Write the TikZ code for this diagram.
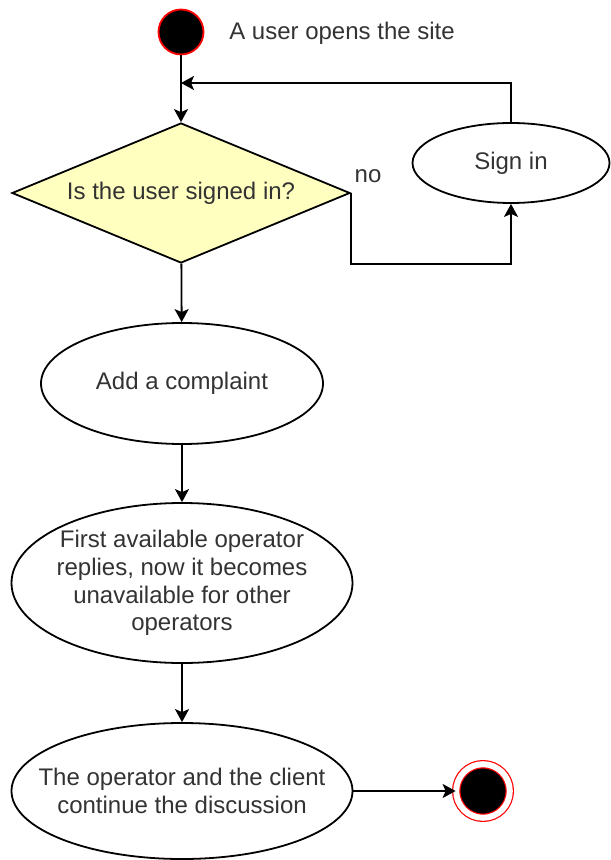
\documentclass[tikz,border=0pt]{standalone}
\usepackage{fontspec}
\setmainfont{Liberation Sans}
\usetikzlibrary{arrows.meta, shapes.geometric}
\definecolor{askfill}{HTML}{FFFFC0}
\begin{document}
\begin{tikzpicture}[x=0.5pt, y=-0.5pt,
                    font=\fontsize{12pt}{13.8pt}\selectfont]
          \useasboundingbox (0,0) rectangle (610,860);
          % Setup the styles for the steps
          \tikzset{action style/.style={ellipse,
                                        draw=black,
                                        line width=0.9pt,
                                        fill=white,
                                        inner xsep=-12pt,
                                        inner ysep=0pt,
                                        align=center,
                                        text=black!80},
                   ask style/.style={diamond,
                                     draw=black,
                                     line width=0.9pt,
                                     fill=askfill,
                                     inner sep=0pt,
                                     shape aspect=2.414,
                                     minimum width=169pt,
                                     minimum height=70pt,
                                     text=black!80},
                   begin style/.style={circle,
                                       fill=black,
                                       draw=red,
                                       line width=0.9pt,
                                       inner sep=0pt,
                                       minimum size=22.5pt},
                   finish style/.style={circle,
                                        fill=black,
                                        draw=red,
                                        line width=0.6pt,
                                        double=white,
                                        double distance=3pt,
                                        inner sep=0pt,
                                        minimum size=26.8pt},
                   flow/.style={line width=0.9pt,
                                -{Stealth[length=6.5pt, width=7pt, inset=1.5pt]}}}
          % Draw the steps
          \node[begin style] at (181, 32)     (start)     {};
          \node[text=black!80] at (342, 33)   (opens)     {A user opens the site};
          \coordinate (join) at (181, 83);
          \node[ask style] at (181, 193)      (signed)    {Is the user signed in?};
          \node[action style, minimum width=98.5pt, minimum height=40pt]
                at (511, 163)                 (signin)    {Sign in};
          \node[text=black!80] at (368, 176)  (no)        {no};
          \node[action style, minimum width=141pt, minimum height=60.5pt]
                at (182, 383.5)               (complaint) {Add a complaint};
          \node[action style, minimum width=170.5pt, minimum height=80pt]
                at (182, 583)                 (reply)     {First available operator\\replies, now it becomes\\unavailable for other\\operators};
          \node[action style, minimum width=170.5pt, minimum height=68pt]
                at (182, 791)                 (discuss)   {The operator and the client\\continue the discussion};
          \node[finish style] at (483, 791)   (stop)      {};
          % Connect the steps with arrows
          \draw[flow]
             (start)     edge (signed)
             (signed)    edge (complaint)
             (complaint) edge (reply)
             (reply)     edge (discuss)
             (discuss)   edge (stop);
          \draw[flow] (signed.east) |- (signin.south |- signed.south) -- (signin.south);
          \draw[flow] (signin.north) |- (join);
      \end{tikzpicture}
\end{document}
